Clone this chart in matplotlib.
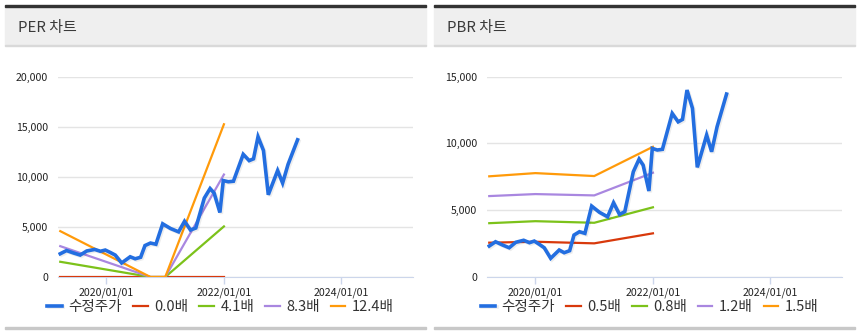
import matplotlib
matplotlib.use("Agg")
import matplotlib.pyplot as plt
import matplotlib.dates as mdates
import matplotlib.patheffects as pe
from matplotlib.patches import Rectangle
from matplotlib.ticker import FuncFormatter
import pandas as pd

plt.rcParams['font.family'] = ['Noto Sans CJK KR', 'DejaVu Sans']

# adjusted close price (수정주가)
price_dates = ["2019-03-20", "2019-04-28", "2019-06-10", "2019-07-22", "2019-09-01",
               "2019-10-20", "2019-11-25", "2019-12-25", "2020-01-25", "2020-02-25",
               "2020-04-05", "2020-05-28", "2020-06-28", "2020-08-01", "2020-08-28",
               "2020-10-01", "2020-11-04", "2020-12-16", "2021-02-03", "2021-03-25",
               "2021-05-01", "2021-06-07", "2021-07-10", "2021-09-01", "2021-10-07",
               "2021-11-01", "2021-12-07", "2021-12-28", "2022-01-28", "2022-03-01",
               "2022-05-01", "2022-06-07", "2022-07-04", "2022-08-01", "2022-09-04",
               "2022-10-04", "2022-12-01", "2023-01-01", "2023-02-04", "2023-04-04"]
price = [2320, 2640, 2400, 2190, 2600, 2750, 2570, 2690, 2450, 2190,
         1400, 2020, 1820, 1970, 3140, 3390, 3270, 5310, 4840, 4510,
         5560, 4690, 4890, 7880, 8830, 8380, 6440, 9630, 9510, 9560,
         12250, 11620, 11800, 14000, 12630, 8210, 10630, 9380, 11250, 13700]

# PER band lines
per_dates = ["2019-03-20", "2020-10-01", "2021-01-01", "2022-01-01"]
per_labels = ["0.0배", "4.1배", "8.3배", "12.4배"]
per_00 = [0, 0, 0, 0]
per_41 = [1520, 0, 0, 5050]
per_83 = [3080, 0, 0, 10230]
per_124 = [4580, 0, 0, 15250]

# PBR band lines
pbr_dates = ["2019-03-20", "2020-01-01", "2021-01-01", "2022-01-01"]
pbr_labels = ["0.5배", "0.8배", "1.2배", "1.5배"]
pbr_05 = [2570, 2640, 2520, 3270]
pbr_08 = [4030, 4180, 4060, 5220]
pbr_12 = [6060, 6210, 6110, 7810]
pbr_15 = [7540, 7780, 7560, 9750]

colors = ["#d8390c", "#7cc21a", "#a987e0", "#ff9a0a"]
blue = "#236ee0"

W, H = 864, 334
fig = plt.figure(figsize=(W / 100, H / 100), dpi=100)


def px(x, y):
    return x / W, 1 - y / H


def draw_panel(x0, x1, title, ymax, band_dates, bands, labels, lx):
    # header box
    fig.patches.append(Rectangle(px(x0, 45), (x1 - x0) / W, 38.5 / H,
                                 transform=fig.transFigure, color="#efefef", zorder=0))
    fig.patches.append(Rectangle(px(x0, 6.7), (x1 - x0) / W, 1.8 / H,
                                 transform=fig.transFigure, color="#333333", zorder=1))
    fig.patches.append(Rectangle(px(x0, 45.5), (x1 - x0) / W, 1 / H,
                                 transform=fig.transFigure, color="#d9d9d9", zorder=1))
    fig.patches.append(Rectangle(px(x0, 329.3), (x1 - x0) / W, 2 / H,
                                 transform=fig.transFigure, color="#c8c8c8", zorder=1))
    fig.text(*px(x0 + 13, 28), title, fontsize=10.8, color="#3a3a3a", va="center")

    ax_left = x0 + 53
    ax = fig.add_axes([ax_left / W, (H - 277) / H, 355 / W, 200.3 / H])
    ax.set_xlim(pd.Timestamp("2019-03-06"), pd.Timestamp("2025-03-22"))
    ax.set_ylim(0, ymax)

    bd = pd.to_datetime(band_dates)
    for vals, lab, c in zip(bands, labels, colors):
        ax.plot(bd, vals, color=c, lw=1.6, label=lab, zorder=2)
    ax.plot(pd.to_datetime(price_dates), price, color=blue, lw=2.6, label="수정주가",
            zorder=3, solid_joinstyle="miter",
            path_effects=[pe.SimpleLineShadow(offset=(1, -1), shadow_color="#000000", alpha=0.07),
                          pe.Normal()])

    ax.set_yticks(range(0, ymax + 1, 5000))
    ax.yaxis.set_major_formatter(FuncFormatter(lambda v, p: f"{v:,.0f}"))
    ax.set_xticks(pd.to_datetime(["2020-01-01", "2022-01-01", "2024-01-01"]))
    ax.xaxis.set_major_formatter(mdates.DateFormatter("%Y/%m/%d"))
    ax.grid(axis="y", color="#e4e4e4", lw=1)
    ax.set_axisbelow(True)
    for s in ["top", "right", "left"]:
        ax.spines[s].set_visible(False)
    ax.spines["bottom"].set_color("#ccd6eb")
    ax.spines["bottom"].set_zorder(1)
    ax.tick_params(axis="y", length=0, pad=7, labelsize=7.6, labelcolor="#222222")
    ax.tick_params(axis="x", length=5, width=1, color="#ccd6eb", pad=2.5,
                   labelsize=7.6, labelcolor="#222222")

    handles, labs = ax.get_legend_handles_labels()
    order = [len(handles) - 1] + list(range(len(handles) - 1))
    fig.legend([handles[i] for i in order], [labs[i] for i in order],
               loc="center", bbox_to_anchor=px(lx, 307), ncol=5, frameon=False,
               fontsize=10.5, handlelength=1.0, handletextpad=0.45,
               columnspacing=0.75, labelcolor="#333333", borderpad=0)
    return ax


draw_panel(5, 426, "PER 차트", 20000, per_dates,
           [per_00, per_41, per_83, per_124], per_labels, 220.5)
draw_panel(434, 855, "PBR 차트", 15000, pbr_dates,
           [pbr_05, pbr_08, pbr_12, pbr_15], pbr_labels, 649.5)

fig.savefig("out.png", dpi=100)
